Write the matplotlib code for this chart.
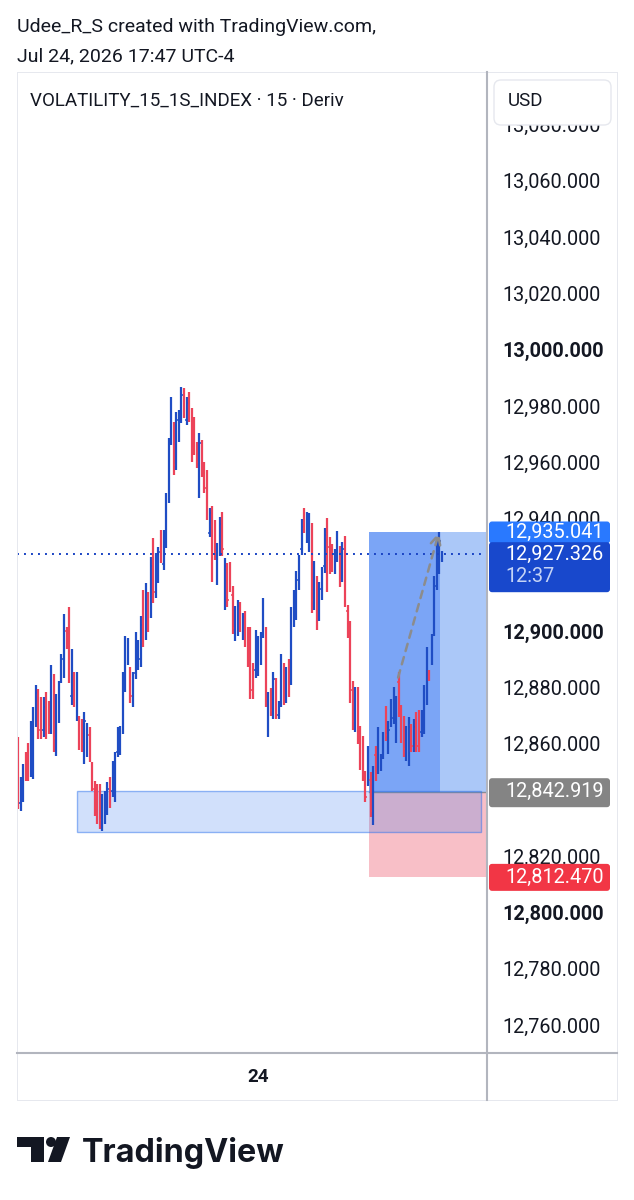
import matplotlib
matplotlib.use("Agg")
import matplotlib.pyplot as plt
from matplotlib.patches import Rectangle, FancyBboxPatch, Circle, Polygon
from matplotlib.lines import Line2D
from matplotlib.collections import LineCollection
from matplotlib.transforms import IdentityTransform

plt.rcParams['font.family'] = ['Roboto', 'DejaVu Sans']

# ---------------- data ----------------
opens = [12856, 12839, 12843, 12855, 12857, 12851, 12852, 12868, 12876, 12873,
         12865, 12875, 12872, 12867, 12880, 12860, 12870, 12883, 12887, 12900,
         12903, 12877, 12883, 12871, 12867, 12866, 12856, 12858, 12863, 12851,
         12844, 12842, 12841, 12832, 12834, 12837, 12846, 12843, 12843, 12857,
         12858, 12866, 12881, 12890, 12885, 12875, 12885, 12888, 12890, 12911,
         12900, 12911, 12908, 12929, 12914, 12919, 12934, 12924, 12932, 12949,
         12969, 12971, 12960, 12969, 12976, 12984, 12975, 12983, 12976, 12973,
         12965, 12951, 12965, 12958, 12954, 12935, 12940, 12937, 12919, 12929,
         12939, 12910, 12921, 12922, 12913, 12898, 12900, 12908, 12899, 12904,
         12899, 12897, 12886, 12886, 12886, 12890, 12900, 12897, 12865, 12877,
         12871, 12880, 12870, 12876, 12886, 12877, 12887, 12884, 12903, 12907,
         12917, 12929, 12942, 12933, 12931, 12934, 12910, 12917, 12906, 12913,
         12923, 12936, 12930, 12929, 12922, 12926, 12927, 12920, 12929, 12907,
         12899, 12879, 12867, 12876, 12863, 12860, 12848, 12847, 12847, 12834,
         12856, 12851, 12851, 12856, 12870, 12858, 12867, 12869, 12863, 12882,
         12871, 12867, 12856, 12855, 12864, 12859, 12868, 12869, 12864, 12866,
         12877, 12885.5, 12890, 12900, 12917, 12923, 12925.5]

highs = [12862.2, 12848.3, 12852.6, 12856.9, 12860.4, 12867.9, 12872.9, 12881.0, 12879.3, 12876.4,
         12876.4, 12878.5, 12875.0, 12888.1, 12884.6, 12877.5, 12882.1, 12891.7, 12905.9, 12901.6,
         12908.4, 12893.5, 12885.6, 12885.3, 12869.7, 12868.6, 12871.1, 12867.5, 12865.8, 12853.3,
         12846.6, 12845.5, 12845.5, 12842.0, 12843.0, 12846.2, 12848.3, 12853.7, 12856.9, 12865.8,
         12866.1, 12885.3, 12898.1, 12897.7, 12887.4, 12885.3, 12899.5, 12897.0, 12905.2, 12914.7,
         12917.2, 12914.0, 12926.5, 12933.2, 12927.9, 12930.0, 12936.1, 12936.1, 12949.2, 12968.7,
         12983.3, 12974.4, 12977.9, 12978.6, 12986.8, 12986.5, 12983.3, 12985.1, 12979.4, 12976.2,
         12967.3, 12970.5, 12968.0, 12960.2, 12957.4, 12943.9, 12944.3, 12939.6, 12931.4, 12940.6,
         12942.5, 12926.1, 12924.3, 12924.7, 12915.9, 12908.8, 12911.2, 12910.5, 12906.6, 12907.0,
         12901.6, 12901.6, 12888.8, 12900.5, 12898.1, 12899.5, 12911.9, 12901.6, 12878.2, 12879.6,
         12885.6, 12883.5, 12875.0, 12891.7, 12888.8, 12887.1, 12890.2, 12908.4, 12914.7, 12921.5,
         12927.2, 12940.0, 12943.6, 12942.2, 12941.8, 12938.3, 12925.0, 12919.7, 12917.5, 12922.9,
         12936.8, 12940.3, 12933.5, 12931.1, 12929.3, 12935.7, 12930.2, 12931.6, 12933.7, 12909.4,
         12903.7, 12882.1, 12880.3, 12880.3, 12866.1, 12862.6, 12850.1, 12859.0, 12849.8, 12852.0,
         12859.0, 12865.8, 12856.2, 12864.0, 12873.2, 12867.9, 12875.7, 12880.3, 12876.8, 12885.6,
         12873.9, 12869.7, 12866.1, 12869.3, 12866.8, 12868.6, 12871.4, 12872.1, 12872.1, 12881.0,
         12894.5, 12886.3, 12898.8, 12919.4, 12933.5, 12935.041, 12928.6]

lows = [12836.6, 12835.9, 12839.4, 12846.6, 12846.6, 12848.0, 12847.3, 12865.8, 12861.5, 12861.5,
        12862.2, 12861.5, 12863.3, 12863.3, 12857.2, 12855.5, 12867.5, 12881.7, 12883.5, 12893.5,
        12881.7, 12873.9, 12872.9, 12867.9, 12857.9, 12857.2, 12852.6, 12855.1, 12853.3, 12843.0,
        12834.2, 12831.3, 12829.5, 12828.8, 12831.3, 12834.8, 12837.3, 12840.9, 12839.4, 12855.1,
        12856.1, 12863.3, 12878.5, 12888.1, 12874.6, 12872.9, 12882.8, 12886.3, 12887.4, 12894.5,
        12897.0, 12899.8, 12904.8, 12910.1, 12911.8, 12917.1, 12924.3, 12921.8, 12929.7, 12945.6,
        12966.3, 12955.6, 12957.4, 12967.3, 12974.0, 12975.8, 12973.3, 12974.4, 12960.2, 12962.7,
        12958.1, 12947.4, 12954.9, 12949.2, 12939.6, 12933.6, 12917.3, 12925.4, 12916.4, 12926.8,
        12926.8, 12907.6, 12908.7, 12914.0, 12898.8, 12896.3, 12898.1, 12899.5, 12897.0, 12894.5,
        12887.4, 12875.7, 12875.7, 12883.5, 12883.9, 12888.1, 12897.7, 12872.9, 12862.2, 12869.7,
        12868.6, 12868.6, 12868.6, 12872.9, 12873.9, 12874.6, 12876.4, 12881.0, 12901.3, 12904.1,
        12914.7, 12927.2, 12935.0, 12931.4, 12928.2, 12906.3, 12907.6, 12900.5, 12903.7, 12911.2,
        12920.8, 12914.0, 12920.4, 12921.1, 12920.4, 12924.7, 12915.8, 12917.5, 12908.4, 12897.7,
        12874.6, 12865.0, 12864.3, 12859.7, 12850.8, 12846.6, 12839.1, 12844.8, 12833.8, 12831.1,
        12846.6, 12849.1, 12850.1, 12854.4, 12860.8, 12856.2, 12865.8, 12866.8, 12860.4, 12869.3,
        12860.4, 12855.1, 12853.7, 12851.9, 12857.2, 12857.2, 12856.9, 12856.9, 12862.2, 12863.3,
        12873.9, 12882.1, 12888.1, 12898.1, 12914.7, 12920.4, 12924.7]

closes = [12842, 12846, 12850, 12849, 12850, 12865, 12869, 12878, 12865, 12865,
          12873, 12865, 12866, 12884, 12862, 12874, 12880, 12890, 12902, 12895,
          12886, 12890, 12875, 12882, 12860, 12860, 12868, 12865, 12856, 12845,
          12837, 12834, 12833, 12839, 12841, 12844, 12840, 12851, 12853, 12863,
          12864, 12882, 12895, 12896, 12877, 12883, 12897, 12895, 12902, 12898,
          12914, 12903, 12923, 12914, 12925, 12928, 12927, 12934, 12946, 12965,
          12980, 12959, 12975, 12977, 12984, 12978, 12981, 12976, 12963, 12965,
          12960, 12967, 12957, 12951, 12942, 12942, 12921, 12928, 12929, 12938,
          12929, 12923, 12911, 12916, 12901, 12906, 12909, 12901, 12905, 12897,
          12890, 12879, 12878, 12897, 12895, 12897, 12909, 12876, 12875, 12872,
          12883, 12871, 12874, 12888, 12876, 12885, 12879, 12904, 12912, 12918,
          12925, 12937, 12937, 12940, 12939, 12911, 12922, 12903, 12915, 12920,
          12934, 12918, 12923, 12923, 12927, 12933, 12918, 12929, 12912, 12900,
          12879, 12868, 12877, 12863, 12853, 12849, 12841, 12856, 12836, 12848,
          12849, 12862, 12855, 12862, 12863, 12865, 12873, 12877, 12873, 12872,
          12863, 12858, 12863, 12866, 12859, 12866, 12859, 12860, 12870, 12878,
          12891, 12883, 12896, 12916, 12930, 12932, 12927.326]

entry_price = 12842.919
target_price = 12935.041
stop_price = 12812.470
last_price = 12927.326
countdown = "12:37"

zone_top = 12843.3
zone_bottom = 12828.7
zone_start_bar = 23.1
zone_end_bar = 181.3

pos_start_bar = 137.5
pos_hit_bar = 165.2
pos_end_bar = 183.2

path_start = (148.8, 12883.5)
path_end = (164.8, 12935.041)

# 12,920 and 12,840 lie fully behind the price labels in the reference
price_ticks = [12760, 12780, 12800, 12820, 12860, 12880, 12900,
               12940, 12960, 12980, 13000, 13020, 13040, 13060, 13080]
bold_ticks = [12800, 12900, 13000]
date_tick_bar = 94
date_tick_label = "24"

header_1 = "Udee_R_S created with TradingView.com,"
header_2 = "Jul 24, 2026 17:47 UTC-4"
symbol_title = "VOLATILITY_15_1S_INDEX · 15 · Deriv"
currency = "USD"

# ---------------- figure ----------------
W, H = 634, 1200
fig = plt.figure(figsize=(W / 100, H / 100), dpi=100, facecolor='white')
ID = IdentityTransform()
TXT = '#131722'


def fr(x0, y0, x1, y1):
    return [x0 / W, 1 - y1 / H, (x1 - x0) / W, (y1 - y0) / H]


ax = fig.add_axes(fr(17, 72, 487, 1053))
ax.set_facecolor('none')
for s in ax.spines.values():
    s.set_visible(False)
ax.set_xlim(-0.39, 183.6)
ax.set_ylim(12750.05, 13098.7)

# OHLC bars
up_col, dn_col = '#1f4dc4', '#ec4359'
n = len(closes)
xs = list(range(n))
cols = [up_col if c >= o else dn_col for o, c in zip(opens, closes)]
ax.vlines(xs, lows, highs, colors=cols, lw=1.6, zorder=4)
segs, scols = [], []
for i, (o, c) in enumerate(zip(opens, closes)):
    segs.append([(i - 0.45, o), (i, o)])
    segs.append([(i, c), (i + 0.45, c)])
    scols += [cols[i], cols[i]]
ax.add_collection(LineCollection(segs, colors=scols, lw=1.1, zorder=4))

# long position tool
ax.add_patch(Rectangle((pos_start_bar, entry_price), pos_hit_bar - pos_start_bar,
                       target_price - entry_price, fc='#7ba5f6', ec='none', zorder=1))
ax.add_patch(Rectangle((pos_hit_bar, entry_price), pos_end_bar - pos_hit_bar,
                       target_price - entry_price, fc='#abc8f8', ec='none', zorder=1))
ax.add_patch(Rectangle((pos_start_bar, stop_price), pos_end_bar - pos_start_bar,
                       entry_price - stop_price, fc='#f8bfc7', ec='none', zorder=1))
ax.plot([pos_start_bar, pos_end_bar], [entry_price, entry_price], color='#8a8d96', lw=1, zorder=2)

# demand zone
ax.add_patch(Rectangle((zone_start_bar, zone_bottom), zone_end_bar - zone_start_bar,
                       zone_top - zone_bottom, fc=(0.18, 0.45, 0.93, 0.22),
                       ec=(0.18, 0.45, 0.93, 0.5), lw=1, zorder=3))

# last price dotted line
ax.axhline(last_price, color='#1a44c4', lw=1.4, ls=(0, (1, 2.6)), zorder=5)

# dashed projection arrow
ax.annotate('', xy=path_end, xytext=path_start,
            arrowprops=dict(arrowstyle='->,head_length=0.7,head_width=0.35',
                            color='#8c8c8c', lw=1.8, ls=(0, (3, 2.5)),
                            shrinkA=0, shrinkB=0), zorder=6)

# axes ticks
ax.yaxis.tick_right()
ax.set_yticks(price_ticks)
ax.set_yticklabels([f"{v:,.3f}" for v in price_ticks])
ax.tick_params(axis='y', length=0, pad=10.8, labelsize=14.3, labelcolor=TXT)
for lab, v in zip(ax.get_yticklabels(), price_ticks):
    if v in bold_ticks:
        lab.set_fontweight('bold')
ax.set_xticks([date_tick_bar])
ax.set_xticklabels([date_tick_label], fontweight='bold')
ax.tick_params(axis='x', length=0, pad=11, labelsize=13.5, labelcolor=TXT)


# frame lines
def fline(x0, y0, x1, y1, c, lw, z=1):
    fig.add_artist(Line2D([x0, x1], [H - y0, H - y1], transform=ID, color=c, lw=lw, zorder=z))


fline(17, 72, 617, 72, '#e6e8ee', 0.7)
fline(17, 72, 17, 1100, '#e6e8ee', 0.7)
fline(617, 72, 617, 1100, '#e6e8ee', 0.7)
fline(17, 1100, 617, 1100, '#e6e8ee', 0.7)
fline(487, 72, 487, 1100, '#b2b5be', 1.5, 8)
fline(17, 1053, 617, 1053, '#b2b5be', 1.5)

# USD box
fig.add_artist(FancyBboxPatch((494, H - 125), 117, 45, boxstyle='round,pad=0,rounding_size=7',
                              transform=ID, fc='white', ec='#e6e8ee', lw=1, zorder=5))
fig.text(508, H - 101, currency, transform=ID, fontsize=13.5, va='center', ha='left', color=TXT, zorder=6)


# price labels
def py(p):
    return ax.transData.transform((0, p))[1]


def price_box(top, bottom, color):
    fig.add_artist(FancyBboxPatch((489, bottom), 121, top - bottom,
                                  boxstyle='round,pad=0,rounding_size=3',
                                  transform=ID, fc=color, ec='none', zorder=7))


def price_txt(y, s, color='white'):
    fig.text(505, y, s, transform=ID, fontsize=14.3, va='center', ha='left', color=color, zorder=8)


c = py(target_price)
price_box(c + 11, c - 11, '#2979ff')
price_txt(c, f"{target_price:,.3f}")
c = py(last_price)
price_box(c + 12, c - 38, '#1848cc')
price_txt(c, f"{last_price:,.3f}")
price_txt(c - 22, countdown, '#c5d4f6')
c = py(entry_price)
price_box(c + 13.5, c - 15.5, '#848484')
price_txt(c, f"{entry_price:,.3f}")
c = py(stop_price)
price_box(c + 13.5, c - 13.5, '#f23645')
price_txt(c, f"{stop_price:,.3f}")

# header texts
fig.text(17, H - 32, header_1, transform=ID, fontsize=14, va='baseline', color=TXT)
fig.text(17, H - 61, header_2, transform=ID, fontsize=14, va='baseline', color=TXT)
fig.text(30, H - 106, symbol_title, transform=ID, fontsize=13.5, va='baseline', color=TXT)

# TradingView logo
logo = '#131722'
fig.add_artist(Rectangle((17, H - 1147), 27, 10, transform=ID, fc=logo, ec='none'))
fig.add_artist(Rectangle((31, H - 1162), 13, 25, transform=ID, fc=logo, ec='none'))
fig.add_artist(Circle((51, H - 1142), 5, transform=ID, fc=logo, ec='none'))
fig.add_artist(Polygon([(57, H - 1137), (70, H - 1137), (61, H - 1162), (48, H - 1162)],
                       closed=True, transform=ID, fc=logo, ec='none'))
fig.text(82, H - 1162, "TradingView", transform=ID, fontsize=23.3, fontweight='bold',
         family=['Inter', 'DejaVu Sans'], va='baseline', color=logo)

fig.savefig('out.png', dpi=100, facecolor='white')
